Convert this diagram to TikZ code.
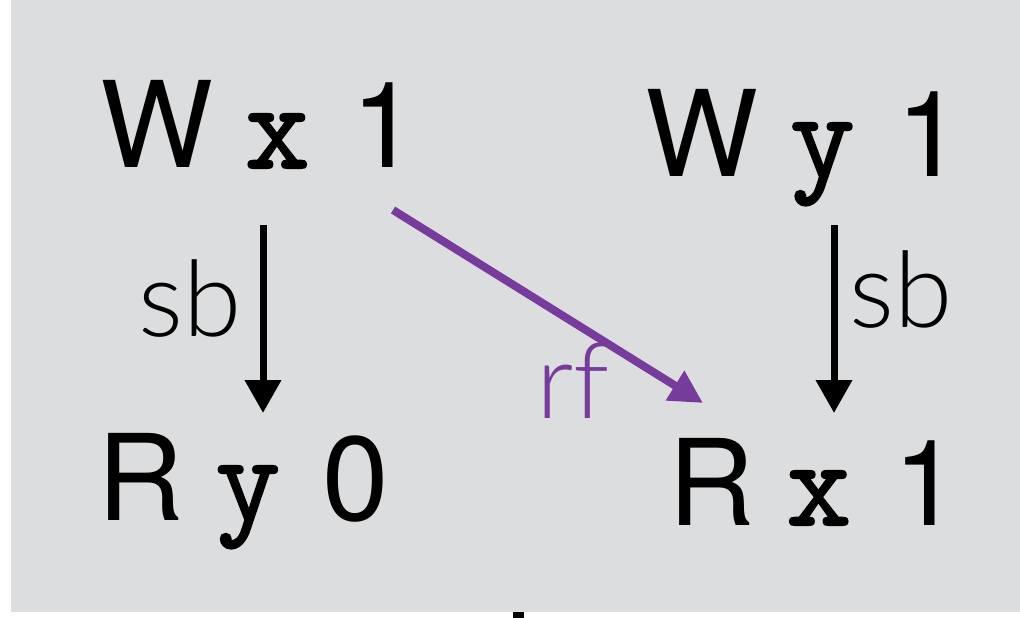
\documentclass[tikz,border=0pt]{standalone}
\usepackage{fontspec}
\setmainfont{TeX Gyre Heros}
\newfontfamily\sansf{TeX Gyre Heros}
\newfontfamily\monof[FakeBold=1.6]{Latin Modern Mono}
\newfontfamily\lightf{Lato Light}
\usetikzlibrary{arrows.meta}
\definecolor{bggray}{RGB}{220,221,223}
\definecolor{rfpurple}{RGB}{119,60,155}
\tikzset{
  evt/.style={anchor=base west, inner sep=0pt, font=\sansf\fontsize{120}{120}\selectfont},
  lbl/.style={anchor=base west, inner sep=0pt, font=\lightf\fontsize{106}{106}\selectfont},
  sbarrow/.style={draw=black, line width=7bp, -{Triangle[width=35bp,length=33bp]}},
  rfarrow/.style={draw=rfpurple, line width=8bp, -{Triangle[width=33bp,length=33bp]}}
}
\newcommand{\mv}[1]{\begingroup\monof\fontsize{126}{126}\selectfont #1\endgroup}
\newcommand{\sv}[1]{\begingroup\sansf\fontsize{120}{120}\selectfont #1\endgroup}
\newcommand{\ga}{\hspace*{32bp}}
\newcommand{\gb}{\hspace*{42bp}}
\begin{document}
\begin{tikzpicture}[x=1bp,y=-1bp]
\useasboundingbox (0,0) rectangle (1020,618);
\fill[bggray] (11,0) rectangle (1020,612);
\fill[black] (513,612) rectangle (524,618);
\node[evt] (wx1) at (100,168) {\sv{W}\ga\mv{x}\gb\sv{1}};
\node[evt] (wy1) at (645,177) {\sv{W}\ga\mv{y}\gb\sv{1}};
\node[evt] (ry0) at (97,520) {\sv{R}\ga\mv{y}\gb\sv{0}};
\node[evt] (rx1) at (668,525) {\sv{R}\ga\mv{x}\gb\sv{1}};
\coordinate (s1a) at (263,225);
\coordinate (s1b) at (263,413);
\coordinate (s2a) at (834,225);
\coordinate (s2b) at (834,413);
\coordinate (rfa) at (393,210);
\coordinate (rfb) at (703,403);
\draw[sbarrow] (s1a) -- (s1b);
\draw[sbarrow] (s2a) -- (s2b);
\draw[rfarrow] (rfa) -- (rfb);
\node[lbl] (sb1) at (138,336) {sb};
\node[lbl] (sb2) at (849,327) {sb};
\node[lbl, text=rfpurple] (rf) at (536,418) {rf};
\end{tikzpicture}
\end{document}
